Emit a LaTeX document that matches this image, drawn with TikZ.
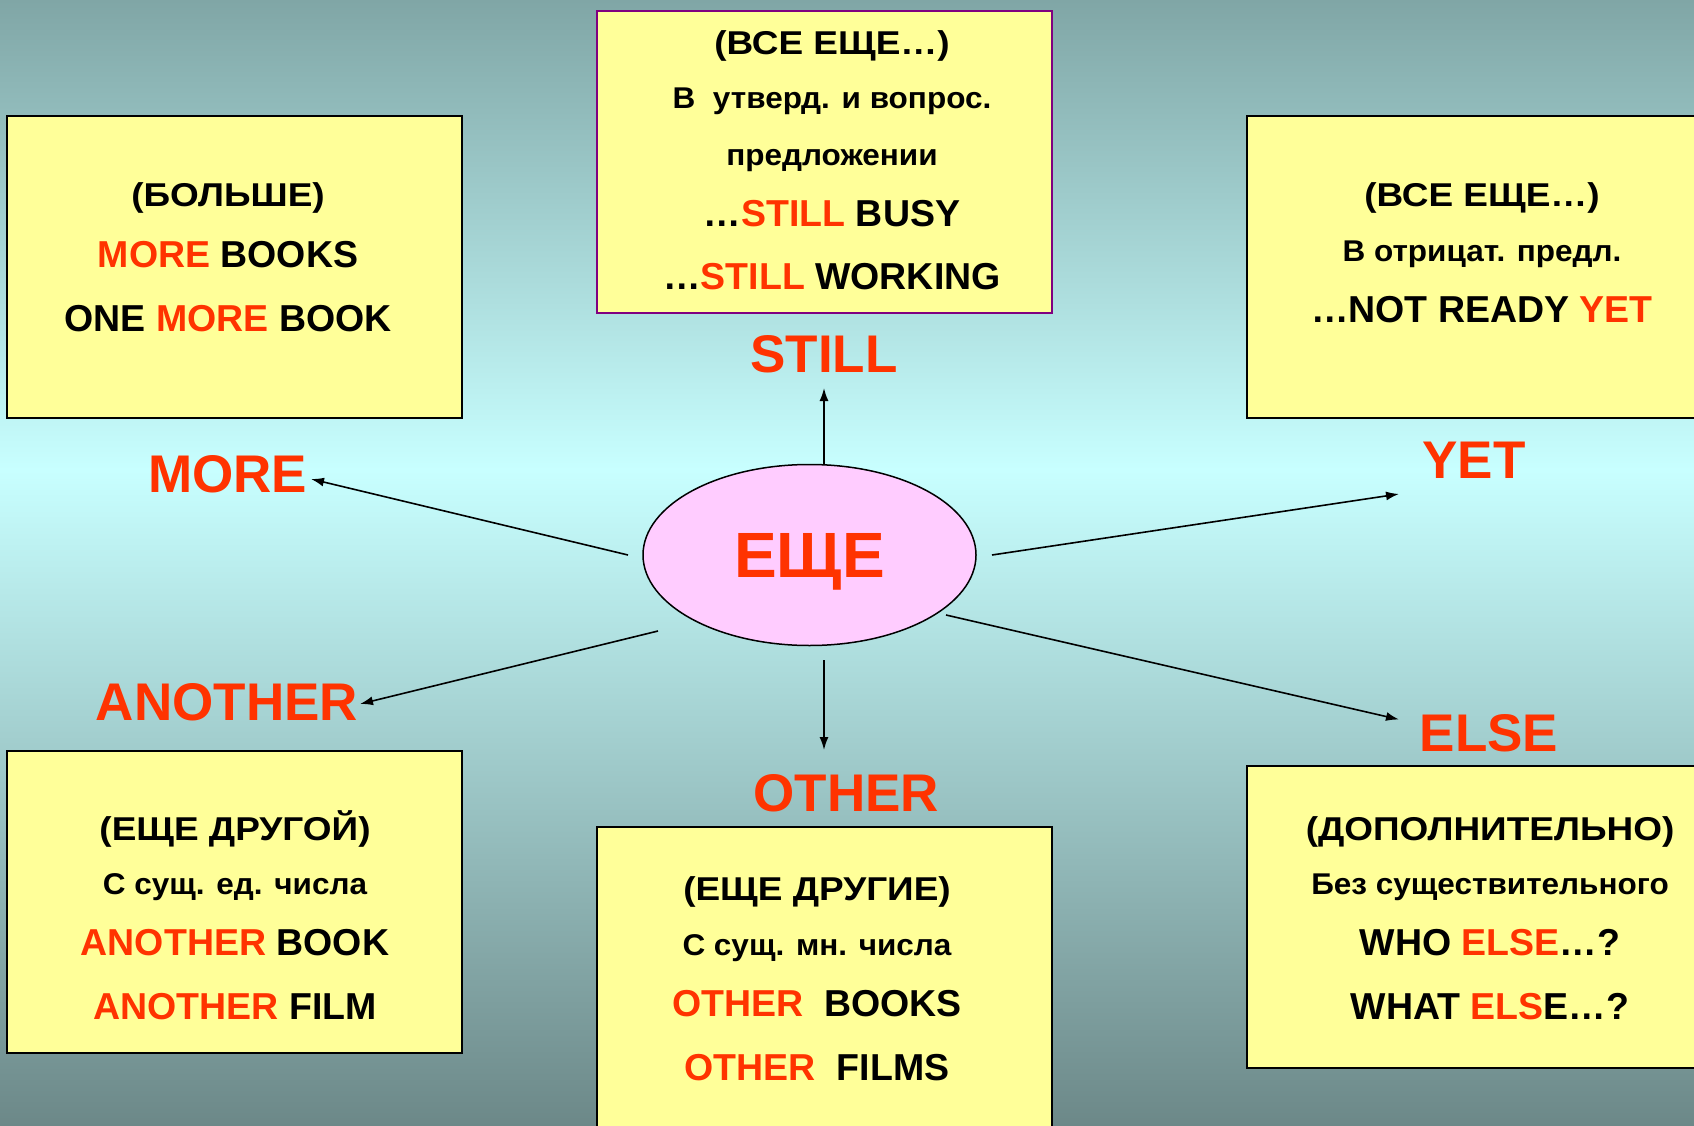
\documentclass[tikz,border=0pt]{standalone}
\usepackage{fontspec}
\setmainfont{Liberation Sans}
\newfontfamily\widesf{Liberation Sans}[FakeStretch=1.12]
\newfontfamily\subsf{Liberation Sans}[FakeStretch=1.05]
\usetikzlibrary{shapes.geometric,arrows.meta}

\definecolor{bgtop}{HTML}{80A6A6}
\definecolor{bgmid}{HTML}{C8FFFF}
\definecolor{bgbot}{HTML}{6C8888}
\definecolor{boxfill}{HTML}{FFFF99}
\definecolor{wordred}{HTML}{FF3300}
\definecolor{ellfill}{HTML}{FFCCFF}
\definecolor{framepurple}{HTML}{800080}

\newcommand{\rd}[1]{\textcolor{wordred}{#1}}
\newcommand{\headfont}{\fontsize{33}{33}\widesf\bfseries}
\newcommand{\subfont}{\fontsize{30}{30}\subsf\bfseries}

\begin{document}
\begin{tikzpicture}[x=1pt,y=-1pt,
  box/.style={draw=black,line width=2pt,fill=boxfill},
  ln/.style={anchor=base,inner sep=0pt,font=\fontsize{37.5}{37.5}\selectfont\bfseries},
  big/.style={anchor=base,inner sep=0pt,text=wordred,font=\fontsize{53}{53}\selectfont\bfseries},
  arr/.style={-{Latex[length=13pt,width=9pt]},line width=1.6pt}]

\useasboundingbox (0,0) rectangle (1694,1126);
\clip (0,0) rectangle (1694,1126);
\shade[top color=bgtop,bottom color=bgmid] (0,0) rectangle (1694,470);
\shade[top color=bgmid,bottom color=bgbot] (0,470) rectangle (1694,1126);

\draw[box] (7,116) rectangle (462,418);
\draw[box,draw=framepurple] (597,11) rectangle (1052,313);
\draw[box] (1247,116) rectangle (1710,418);
\draw[box] (7,751) rectangle (462,1053);
\draw[box] (597,827) rectangle (1052,1140);
\draw[box] (1247,766) rectangle (1710,1068);

% text in the boxes
\foreach \y/\txt [count=\i] in {206.7/{\headfont (БОЛЬШЕ)}, 267.7/{\rd{MORE} BOOKS}, 331.7/{ONE \rd{MORE} BOOK}}
  \node[ln] (more\i) at (228,\y) {\txt};
\foreach \y/\txt [count=\i] in {55/{\headfont (ВСЕ ЕЩЕ…)}, 109/{\subfont В~ утверд. и вопрос.}, 165.7/{\subfont предложении}, 226.7/{…\rd{STILL} BUSY}, 289.3/{…\rd{STILL} WORKING}}
  \node[ln] (still\i) at (832,\y) {\txt};
\foreach \y/\txt [count=\i] in {206.7/{\headfont (ВСЕ ЕЩЕ…)}, 261/{\subfont В отрицат. предл.}, 322.7/{…NOT READY \rd{YET}}}
  \node[ln] (yet\i) at (1482,\y) {\txt};
\foreach \y/\txt [count=\i] in {840/{\headfont (ЕЩЕ ДРУГОЙ)}, 894/{\subfont С сущ. ед. числа}, 955.7/{\rd{ANOTHER} BOOK}, 1019.3/{\rd{ANOTHER} FILM}}
  \node[ln] (another\i) at (235,\y) {\txt};
\foreach \y/\txt [count=\i] in {900/{\headfont (ЕЩЕ ДРУГИЕ)}, 955/{\subfont С сущ. мн. числа}, 1016.7/{\rd{OTHER}~ BOOKS}, 1080/{\rd{OTHER}~ FILMS}}
  \node[ln] (other\i) at (817,\y) {\txt};
\foreach \y/\txt [count=\i] in {840/{\headfont (ДОПОЛНИТЕЛЬНО)}, 894/{\subfont Без существительного}, 955/{WHO \rd{ELSE}…?}, 1019.3/{WHAT \rd{ELS}E…?}}
  \node[ln] (else\i) at (1490,\y) {\txt};

% words round the centre
\node[big] (still) at (824,372) {STILL};
\node[big] (more) at (227.5,492.7) {MORE};
\node[big] (yet) at (1474,478.5) {YET};
\node[big] (another) at (227,720.5) {ANOTHER};
\node[big] (other) at (846.5,811) {OTHER};
\node[big] (else) at (1489,751) {ELSE};

\node[ellipse,draw,line width=1.5pt,fill=ellfill,minimum width=333pt,minimum height=181pt,
  inner sep=0pt,text depth=0pt,text=wordred,font=\fontsize{64}{64}\selectfont\bfseries] (eshche) at (809.5,555) {ЕЩЕ};

\coordinate (still-tip) at (824,388);
\coordinate (other-tail) at (824,660);
\coordinate (other-tip) at (824,750);
\coordinate (more-tail) at (628,555);
\coordinate (more-tip) at (311,479);
\coordinate (yet-tail) at (992,555);
\coordinate (yet-tip) at (1399,494);
\coordinate (another-tail) at (658,631);
\coordinate (another-tip) at (360,704);
\coordinate (else-tail) at (946,615);
\coordinate (else-tip) at (1399,719.5);

\draw[arr] (eshche.north -| still-tip) -- (still-tip);
\foreach \a in {other,more,yet,another,else}
  \draw[arr] (\a-tail) -- (\a-tip);
\end{tikzpicture}
\end{document}
